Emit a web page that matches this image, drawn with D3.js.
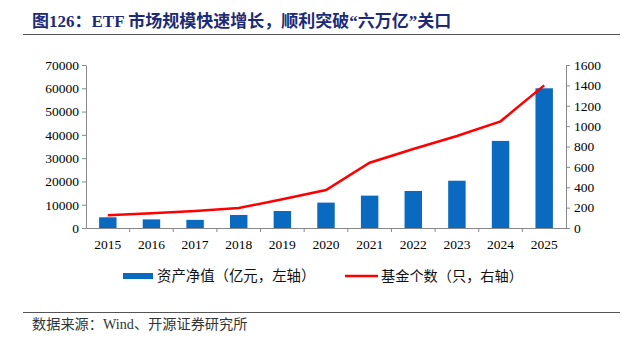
<!DOCTYPE html>
<html>
<head>
<meta charset="utf-8">
<script src="https://cdn.jsdelivr.net/npm/d3@7"></script>
<style>
  body { margin: 0; background: #fff; }
  text { font-family: "Liberation Serif", "Noto Sans CJK SC", serif; }
</style>
</head>
<body>
<div id="chart"></div>
<script>
// data
var years = ["2015", "2016", "2017", "2018", "2019", "2020", "2021", "2022", "2023", "2024", "2025"];
var netAssets = [4600, 3700, 3500, 5600, 7300, 10900, 13900, 15900, 20300, 37400, 60000];
var fundCount = [125, 145, 167, 196, 282, 373, 641, 775, 903, 1047, 1400];
var leftTicks = [0, 10000, 20000, 30000, 40000, 50000, 60000, 70000];
var rightTicks = [0, 200, 400, 600, 800, 1000, 1200, 1400, 1600];

var svgWidth = 644;
var svgHeight = 341;

var margin = { top: 65, right: 78, bottom: 113, left: 86 };
var width = svgWidth - margin.left - margin.right;
var height = svgHeight - margin.top - margin.bottom;

var svg = d3.select("#chart")
  .append("svg")
  .attr("width", svgWidth)
  .attr("height", svgHeight);

// title + rules
svg.append("text")
  .attr("x", 32)
  .attr("y", 27)
  .attr("font-size", "17px")
  .attr("font-weight", "bold")
  .attr("fill", "#1c2a78")
  .text("图126：ETF 市场规模快速增长，顺利突破“六万亿”关口");

svg.append("line")
  .attr("x1", 23).attr("x2", 620)
  .attr("y1", 34.5).attr("y2", 34.5)
  .attr("stroke", "#555").attr("stroke-width", 1);

svg.append("line")
  .attr("x1", 23).attr("x2", 620)
  .attr("y1", 312.5).attr("y2", 312.5)
  .attr("stroke", "#555").attr("stroke-width", 1);

svg.append("text")
  .attr("x", 32)
  .attr("y", 329)
  .attr("font-size", "14.2px")
  .attr("fill", "#333")
  .text("数据来源：Wind、开源证券研究所");

var chartGroup = svg.append("g")
  .attr("transform", `translate(${margin.left}, ${margin.top})`);

// scales
var xScale = d3.scaleBand()
  .domain(years)
  .range([0, width])
  .paddingInner(0.6)
  .paddingOuter(0.3);

var xBoundary = d3.scaleLinear()
  .domain([0, years.length])
  .range([0, width]);

var yLeft = d3.scaleLinear().domain([0, 70000]).range([height, 0]);
var yRight = d3.scaleLinear().domain([0, 1600]).range([height, 0]);

// bars
chartGroup.selectAll(".bar")
  .data(netAssets)
  .enter()
  .append("rect")
  .attr("class", "bar")
  .attr("x", (d, i) => xScale(years[i]))
  .attr("width", xScale.bandwidth())
  .attr("y", d => yLeft(d))
  .attr("height", d => height - yLeft(d))
  .attr("fill", "#0a6abf");

// line
var line = d3.line()
  .x((d, i) => xScale(years[i]) + xScale.bandwidth() / 2)
  .y(d => yRight(d));

chartGroup.append("path")
  .datum(fundCount)
  .attr("d", line)
  .attr("fill", "none")
  .attr("stroke", "#ff0000")
  .attr("stroke-width", 2.5);

// axes
var axisColor = "#888";

var leftAxis = chartGroup.append("g")
  .call(d3.axisLeft(yLeft).tickValues(leftTicks).tickFormat(d3.format("d"))
    .tickSize(4).tickPadding(3).tickSizeOuter(0));
var rightAxis = chartGroup.append("g")
  .attr("transform", `translate(${width}, 0)`)
  .call(d3.axisRight(yRight).tickValues(rightTicks).tickFormat(d3.format("d"))
    .tickSize(4).tickPadding(4).tickSizeOuter(0));

var bottomAxis = chartGroup.append("g")
  .attr("transform", `translate(0, ${height})`)
  .call(d3.axisBottom(xScale).tickSize(0).tickPadding(11).tickSizeOuter(0));

// boundary ticks on x axis
chartGroup.append("g")
  .selectAll("line")
  .data(d3.range(1, years.length))
  .enter()
  .append("line")
  .attr("x1", d => xBoundary(d)).attr("x2", d => xBoundary(d))
  .attr("y1", height).attr("y2", height + 4)
  .attr("stroke", axisColor);

[leftAxis, rightAxis, bottomAxis].forEach(function (g) {
  g.selectAll("path").attr("stroke", axisColor);
  g.selectAll("line").attr("stroke", axisColor);
  g.selectAll("text")
    .attr("font-family", "Liberation Serif, serif")
    .attr("font-size", "13.5px")
    .attr("fill", "#000");
});

// legend
var legend = svg.append("g");
legend.append("rect")
  .attr("x", 123).attr("y", 273)
  .attr("width", 30).attr("height", 6)
  .attr("fill", "#0a6abf");
legend.append("text")
  .attr("x", 157).attr("y", 281)
  .attr("font-size", "14.4px")
  .attr("fill", "#111")
  .text("资产净值（亿元，左轴）");
legend.append("line")
  .attr("x1", 345).attr("x2", 378)
  .attr("y1", 276).attr("y2", 276)
  .attr("stroke", "#ff0000").attr("stroke-width", 2.5);
legend.append("text")
  .attr("x", 381).attr("y", 281)
  .attr("font-size", "14.2px")
  .attr("fill", "#111")
  .text("基金个数（只，右轴）");
</script>
</body>
</html>
